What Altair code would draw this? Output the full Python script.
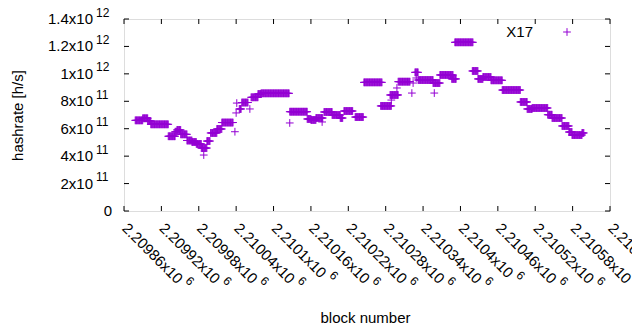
import altair as alt
import pandas as pd

# Runs of consecutive blocks sharing the same hashrate estimate
RUN_START = [2209878, 2209890, 2209898, 2209903, 2209931, 2209942, 2209945, 2209951, 2209961, 2209969,
             2209976, 2209984, 2209993, 2209999, 2210009, 2210017, 2210045, 2210049, 2210064, 2210075,
             2210080, 2210126, 2210154, 2210160, 2210168, 2210181, 2210194, 2210207, 2210213, 2210231,
             2210245, 2210272, 2210287, 2210300, 2210327, 2210332, 2210356, 2210367, 2210386, 2210391,
             2210419, 2210428, 2210436, 2210449, 2210467, 2210496, 2210507, 2210515, 2210540, 2210547,
             2210563, 2210574, 2210579, 2210595]
RUN_END = [2209890, 2209898, 2209903, 2209931, 2209942, 2209945, 2209951, 2209961, 2209969, 2209976,
           2209984, 2209993, 2209998, 2210009, 2210017, 2210035, 2210048, 2210059, 2210075, 2210080,
           2210125, 2210154, 2210160, 2210168, 2210179, 2210194, 2210207, 2210211, 2210227, 2210244,
           2210274, 2210289, 2210300, 2210319, 2210332, 2210356, 2210367, 2210388, 2210393, 2210420,
           2210428, 2210436, 2210449, 2210467, 2210496, 2210507, 2210515, 2210540, 2210547, 2210563,
           2210574, 2210579, 2210595, 2210598]
RUN_VALUE = [6.61e11, 6.76e11, 6.56e11, 6.32e11, 5.45e11, 5.78e11, 5.91e11, 5.59e11, 5.14e11, 5.03e11,
             4.89e11, 4.59e11, 5.10e11, 5.69e11, 5.98e11, 6.45e11, 7.44e11, 7.91e11, 8.29e11, 8.53e11,
             8.58e11, 7.24e11, 6.71e11, 6.64e11, 6.78e11, 7.22e11, 7.00e11, 6.78e11, 7.29e11, 6.85e11,
             9.38e11, 7.66e11, 8.46e11, 9.43e11, 1.011e12, 9.55e11, 9.33e11, 9.92e11, 9.63e11, 1.230e12,
             1.021e12, 9.63e11, 9.77e11, 9.53e11, 8.82e11, 7.95e11, 7.44e11, 7.51e11, 7.02e11, 6.78e11,
             6.20e11, 5.76e11, 5.54e11, 5.69e11]

# Isolated single-block points
OUT_BLOCK = [2209988, 2210038, 2210040, 2210041, 2210062, 2210126, 2210178, 2210289, 2210298,
             2210322, 2210324, 2210329, 2210358]
OUT_VALUE = [4.08e11, 5.78e11, 7.15e11, 7.87e11, 7.44e11, 6.42e11, 6.49e11, 8.09e11, 8.97e11,
             8.60e11, 9.33e11, 9.70e11, 8.60e11]

SERIES = ["X17"]
X_TICKS = [2209860, 2209920, 2209980, 2210040, 2210100, 2210160, 2210220, 2210280, 2210340,
           2210400, 2210460, 2210520, 2210580, 2210640]
X_MAIN = ["2.20986x10", "2.20992x10", "2.20998x10", "2.21004x10", "2.2101x10", "2.21016x10",
          "2.21022x10", "2.21028x10", "2.21034x10", "2.2104x10", "2.21046x10", "2.21052x10",
          "2.21058x10", "2.21064x10"]
X_EXP = ["6", "6", "6", "6", "6", "6", "6", "6", "6", "6", "6", "6", "6", "6"]
Y_TICKS = [0, 2e11, 4e11, 6e11, 8e11, 1e12, 1.2e12, 1.4e12]
Y_MAIN = ["0", "2x10", "4x10", "6x10", "8x10", "1x10", "1.2x10", "1.4x10"]
Y_EXP = ["", "11", "11", "11", "11", "12", "12", "12"]

rows = []
for s, e, v in zip(RUN_START, RUN_END, RUN_VALUE):
    for b in range(s, e + 1):
        rows.append({"block": b, "hashrate": v, "series": SERIES[0]})
for b, v in zip(OUT_BLOCK, OUT_VALUE):
    rows.append({"block": b, "hashrate": v, "series": SERIES[0]})
df = pd.DataFrame(rows)

W, H = 486, 192
FONT = "Liberation Sans"
PURPLE = "#9400d3"
PLUS = "M-1,0L1,0M0,-1L0,1"

xscale = alt.Scale(domain=[X_TICKS[0], X_TICKS[-1]], nice=False, zero=False)
yscale = alt.Scale(domain=[Y_TICKS[0], Y_TICKS[-1]], nice=False, zero=False)

xaxis = alt.Axis(labels=False, ticks=False, domain=False, grid=False, title="block number",
                 titleFont=FONT, titleFontSize=15, titleFontWeight="normal", titleColor="black",
                 titleX=241, titleY=111, titleAlign="center", titleBaseline="alphabetic")
yaxis = alt.Axis(labels=False, ticks=False, domain=False, grid=False, title="hashrate [h/s]",
                 titleFont=FONT, titleFontSize=15, titleFontWeight="normal", titleColor="black",
                 titleX=-107, titleY=96, titleAlign="center", titleBaseline="middle", titleAngle=-90)

points = alt.Chart(df).mark_point(shape=PLUS, filled=False, size=60, strokeWidth=1, opacity=1,
                                  color=PURPLE).encode(
    x=alt.X("block:Q", scale=xscale, axis=xaxis),
    y=alt.Y("hashrate:Q", scale=yscale, axis=yaxis),
)

# legend (gnuplot style: label then sample symbol)
leg = pd.DataFrame({"series": SERIES})
legend_text = alt.Chart(leg).mark_text(align="right", baseline="middle", font=FONT, fontSize=15,
                                       color="black").encode(
    text="series:N", x=alt.value(409), y=alt.value(13))
legend_sym = alt.Chart(leg).mark_point(shape=PLUS, filled=False, size=60, strokeWidth=1, opacity=1,
                                       color=PURPLE).encode(
    x=alt.value(443), y=alt.value(13))

xt = pd.DataFrame({"t": X_TICKS, "main": X_MAIN, "exp": X_EXP})
yt = pd.DataFrame({"t": Y_TICKS, "main": Y_MAIN, "exp": Y_EXP})
tick_style = dict(color="black", strokeWidth=1)
bottom_ticks = alt.Chart(xt).mark_rule(**tick_style).encode(
    x=alt.X("t:Q", scale=xscale, axis=xaxis), y=alt.value(H), y2=alt.value(H - 5))
top_ticks = alt.Chart(xt).mark_rule(**tick_style).encode(
    x=alt.X("t:Q", scale=xscale, axis=xaxis), y=alt.value(0), y2=alt.value(5))
left_ticks = alt.Chart(yt).mark_rule(**tick_style).encode(
    y=alt.Y("t:Q", scale=yscale, axis=yaxis), x=alt.value(0), x2=alt.value(5))
right_ticks = alt.Chart(yt).mark_rule(**tick_style).encode(
    y=alt.Y("t:Q", scale=yscale, axis=yaxis), x=alt.value(W), x2=alt.value(W - 5))

txt = dict(font=FONT, color="black")
# y tick labels: mantissa + raised exponent
y_main = alt.Chart(yt).transform_filter("datum.exp != ''").mark_text(
    align="right", baseline="middle", fontSize=15, **txt).encode(
    y=alt.Y("t:Q", scale=yscale, axis=yaxis), x=alt.value(-31), text="main:N")
y_zero = alt.Chart(yt).transform_filter("datum.exp == ''").mark_text(
    align="right", baseline="middle", fontSize=15, **txt).encode(
    y=alt.Y("t:Q", scale=yscale, axis=yaxis), x=alt.value(-12), text="main:N")
y_exp = alt.Chart(yt).transform_filter("datum.exp != ''").mark_text(
    align="left", baseline="middle", fontSize=12, dy=-6.5, **txt).encode(
    y=alt.Y("t:Q", scale=yscale, axis=yaxis), x=alt.value(-28), text="exp:N")

# x tick labels, rotated 45 degrees clockwise, left-justified at the tick
x_main = alt.Chart(xt).mark_text(align="left", baseline="middle", fontSize=15, angle=45, dx=1,
                                 **txt).encode(
    x=alt.X("t:Q", scale=xscale, axis=xaxis), y=alt.value(H + 14), text="main:N")
x_exp_long = alt.Chart(xt).transform_filter("length(datum.main) == 10").mark_text(
    align="left", baseline="middle", fontSize=12, angle=45, dx=83, dy=-7, **txt).encode(
    x=alt.X("t:Q", scale=xscale, axis=xaxis), y=alt.value(H + 14), text="exp:N")
x_exp_short = alt.Chart(xt).transform_filter("length(datum.main) == 9").mark_text(
    align="left", baseline="middle", fontSize=12, angle=45, dx=75, dy=-7, **txt).encode(
    x=alt.X("t:Q", scale=xscale, axis=xaxis), y=alt.value(H + 14), text="exp:N")

chart = alt.layer(points, bottom_ticks, top_ticks, left_ticks, right_ticks,
                  y_main, y_zero, y_exp, x_main, x_exp_long, x_exp_short,
                  legend_text, legend_sym).properties(
    width=W, height=H,
    autosize=alt.AutoSizeParams(type="none"),
    padding={"left": 116, "top": 11, "right": 22, "bottom": 113},
).configure_view(stroke="black", strokeWidth=1).configure(background="white")

chart.save("out.html", embed_options={"renderer": "svg", "actions": False})
